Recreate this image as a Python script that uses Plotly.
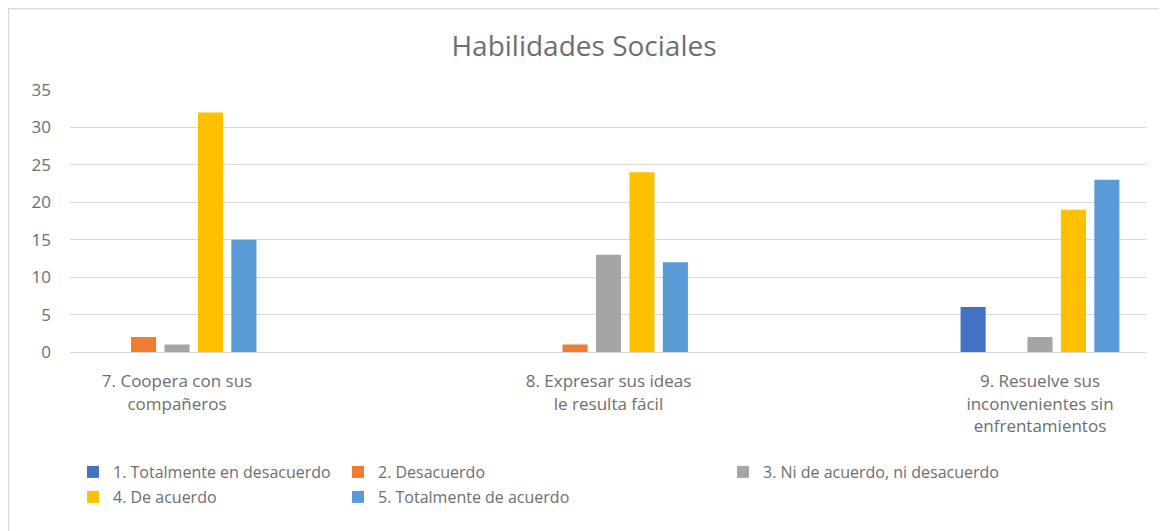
import plotly.graph_objects as go

categories = ["7. Coopera con sus<br>compañeros",
              "8. Expresar sus ideas<br>le resulta fácil",
              "9. Resuelve sus<br>inconvenientes sin<br>enfrentamientos"]
series_names = ["1. Totalmente en desacuerdo", "2. Desacuerdo",
                "3. Ni de acuerdo, ni desacuerdo", "4. De acuerdo",
                "5. Totalmente de acuerdo"]
totalmente_desacuerdo = [0, 0, 6]
desacuerdo = [2, 1, 0]
ni_ni = [1, 13, 2]
de_acuerdo = [32, 24, 19]
totalmente_acuerdo = [15, 12, 23]
y_ticks = [0, 5, 10, 15, 20, 25, 30, 35]

colors = ["#4472C4", "#ED7D31", "#A5A5A5", "#FFC000", "#5B9BD5"]
values = [totalmente_desacuerdo, desacuerdo, ni_ni, de_acuerdo, totalmente_acuerdo]

# page body has an 8px margin; figure is sized to fit the 1167x531 window
OFF = 8
W, H = 1167 - OFF, 531 - OFF
L, R, T, B = 70 - OFF, 20, 90 - OFF, 179
pw, ph = W - L - R, H - T - B

def px_x(x):  # x in window pixels
    return (x - OFF - L) / pw

def px_y(y):  # y in window pixels
    return (H - B - (y - OFF)) / ph

TEXT = "#6e6e6e"
FONT = "Open Sans"

legend_pos = [(73, 472), (338, 472), (723, 472), (73, 497), (338, 497)]
legend_names = ["legend", "legend2", "legend3", "legend4", "legend5"]

fig = go.Figure()
xs = list(range(len(categories)))
for i, (name, vals) in enumerate(zip(series_names, values)):
    fig.add_trace(go.Bar(x=xs, y=vals, name=name, marker_color=colors[i],
                         marker_line_width=0, legend=legend_names[i]))

layout_legends = {}
for i, ln in enumerate(legend_names):
    lx, ly = legend_pos[i]
    layout_legends[ln] = dict(x=px_x(lx), y=px_y(ly), xanchor="left", yanchor="middle",
                              xref="paper", yref="paper",
                              font=dict(family=FONT, size=16, color=TEXT),
                              bgcolor="rgba(0,0,0,0)", itemwidth=30)

fig.update_layout(
    width=W, height=H,
    margin=dict(l=L, r=R, t=T, b=B),
    paper_bgcolor="white", plot_bgcolor="white",
    title=dict(text="Habilidades Sociales", x=(584 - OFF) / W, xref="container",
               xanchor="center", y=1 - (46 - OFF) / H, yanchor="middle",
               font=dict(family=FONT, size=28, color=TEXT)),
    barmode="group", bargap=0.6125, bargroupgap=0.25,
    xaxis=dict(tickmode="array", tickvals=xs, ticktext=categories,
               range=[-0.248, 2.248], showgrid=False, zeroline=False,
               showline=True, linecolor="#D9D9D9", linewidth=1,
               ticks="", ticklabelstandoff=14,
               tickfont=dict(family=FONT, size=17, color=TEXT)),
    yaxis=dict(range=[0, 35], tickvals=y_ticks, showgrid=True, gridcolor="#D9D9D9",
               gridwidth=1, zeroline=False, showline=False, ticks="",
               ticklabelstandoff=18,
               tickfont=dict(family=FONT, size=17, color=TEXT)),
    showlegend=True,
    **layout_legends,
)

# chart border
fig.add_shape(type="rect", xref="paper", yref="paper",
              x0=px_x(8.5), x1=px_x(1160), y0=px_y(545), y1=px_y(8.5),
              line=dict(color="#D9D9D9", width=1.5), fillcolor="rgba(0,0,0,0)", layer="below")

fig.write_html("out.html")
